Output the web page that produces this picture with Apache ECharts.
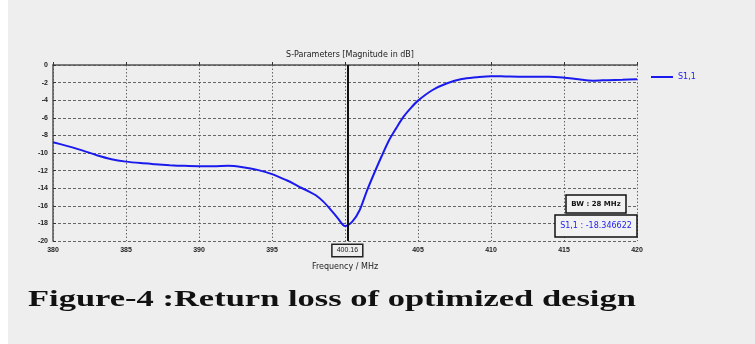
<!DOCTYPE html>
<html><head><meta charset="utf-8">
<script src="https://cdn.jsdelivr.net/npm/echarts@6/dist/echarts.min.js"></script>
<style>html,body{margin:0;padding:0;background:#fff}#c{position:absolute;left:0;top:0;width:755px;height:344px;}
#bg{position:absolute;left:8px;top:0;width:747px;height:344px;background:#eeeeee}</style>
</head><body><div id="bg"></div><div id="c"></div>
<script>
const freq = [380,381,382,383,384,385,386,387,388,389,390,391,392,393,394,395,396,396.5,397,397.5,398,398.5,399,399.5,400,400.5,401,401.5,402,402.5,403,403.5,404,404.5,405,406,407,408,409,410,411,412,413,414,415,416,417,418,419,420];
const s11  = [-8.77,-9.22,-9.7,-10.25,-10.7,-10.98,-11.15,-11.27,-11.38,-11.46,-11.5,-11.5,-11.46,-11.62,-11.92,-12.4,-13.1,-13.5,-13.95,-14.35,-14.8,-15.5,-16.4,-17.4,-18.3,-17.8,-16.5,-14.3,-12.3,-10.4,-8.6,-7.2,-5.9,-4.9,-4.05,-2.84,-2.08,-1.6,-1.4,-1.27,-1.3,-1.33,-1.33,-1.33,-1.44,-1.63,-1.78,-1.72,-1.68,-1.63];
const xTicks = [380,385,390,395,400,405,410,415,420];
const yTicks = [0,-2,-4,-6,-8,-10,-12,-14,-16,-18,-20];
const markerFreq = 400.16;
const chart = echarts.init(document.getElementById('c'));
chart.setOption({
  backgroundColor: 'transparent',
  animation: false,
  title: {text: 'S-Parameters [Magnitude in dB]', left: 345, top: 46, textAlign: 'center',
    textStyle: {fontSize: 8, fontWeight: 'normal', color: '#222', fontFamily: 'DejaVu Sans'}},
  legend: {left: 646, top: 68, itemWidth: 22, itemHeight: 2, icon: 'rect',
    textStyle: {color: '#2222ee', fontSize: 8, fontFamily: 'DejaVu Sans'}, data: ['S1,1']},
  grid: {left: 53, right: 118, top: 65, bottom: 103},
  xAxis: {type: 'value', min: 380, max: 420, interval: 5,
    name: 'Frequency / MHz', nameLocation: 'middle', nameGap: 22,
    nameTextStyle: {fontSize: 8, color: '#222', fontFamily: 'DejaVu Sans'},
    axisLine: {show: true, lineStyle: {color: '#555', width: 1.5}},
    axisTick: {show: true, inside: true, length: 3, lineStyle: {color: '#333'}},
    axisLabel: {fontSize: 7, color: '#222', fontWeight: 'bold', margin: 6, formatter: v => xTicks.includes(v) ? String(v) : ''},
    splitLine: {show: true, lineStyle: {color: '#666', type: [1.5, 2], width: 1}}},
  yAxis: {type: 'value', min: -20, max: 0, interval: 2,
    axisLine: {show: true, lineStyle: {color: '#555', width: 1.5}},
    axisTick: {show: true, inside: true, length: 3, lineStyle: {color: '#333'}},
    axisLabel: {fontSize: 7, color: '#222', fontWeight: 'bold', margin: 5, formatter: v => yTicks.includes(v) ? String(v) : ''},
    splitLine: {show: true, lineStyle: {color: '#666', type: [3, 2], width: 1}}},
  series: [{
    name: 'S1,1', type: 'line', smooth: 0.3, symbol: 'none',
    lineStyle: {color: '#1a1aee', width: 2}, itemStyle: {color: '#1a1aee'},
    data: freq.map((f, i) => [f, s11[i]]),
    markLine: {silent: true, symbol: 'none', z: 10,
      lineStyle: {color: '#111', width: 2, type: 'solid'},
      label: {show: true, position: 'start', formatter: String(markerFreq), fontSize: 7, color: '#222',
        backgroundColor: '#eeeeee', borderColor: '#222', borderWidth: 1.5, padding: [2, 4], distance: 4},
      data: [{xAxis: markerFreq}]}
  }],
  graphic: [
    {type: 'rect', z: 100, shape: {x: 566, y: 195, width: 60, height: 18}, style: {fill: '#f2f2f2', stroke: '#111', lineWidth: 1.5}},
    {type: 'text', z: 101, style: {x: 596, y: 204, text: 'BW : 28 MHz', fill: '#111', fontSize: 7, fontWeight: 'bold', align: 'center', verticalAlign: 'middle', fontFamily: 'DejaVu Sans'}},
    {type: 'rect', z: 100, shape: {x: 555, y: 215, width: 82, height: 22}, style: {fill: '#f2f2f2', stroke: '#111', lineWidth: 1.5}},
    {type: 'text', z: 101, style: {x: 596, y: 226, text: 'S1,1 : -18.346622', fill: '#2222ee', fontSize: 8, align: 'center', verticalAlign: 'middle', fontFamily: 'DejaVu Sans'}},
    {type: 'text', z: 101, x: 28, y: 289, scaleX: 1.5, style: {x: 0, y: 0, text: 'Figure-4 :Return loss of optimized design', fill: '#111', fontSize: 23, fontWeight: 'bold', fontFamily: 'Liberation Serif'}}
  ]
});
</script>
</body></html>
